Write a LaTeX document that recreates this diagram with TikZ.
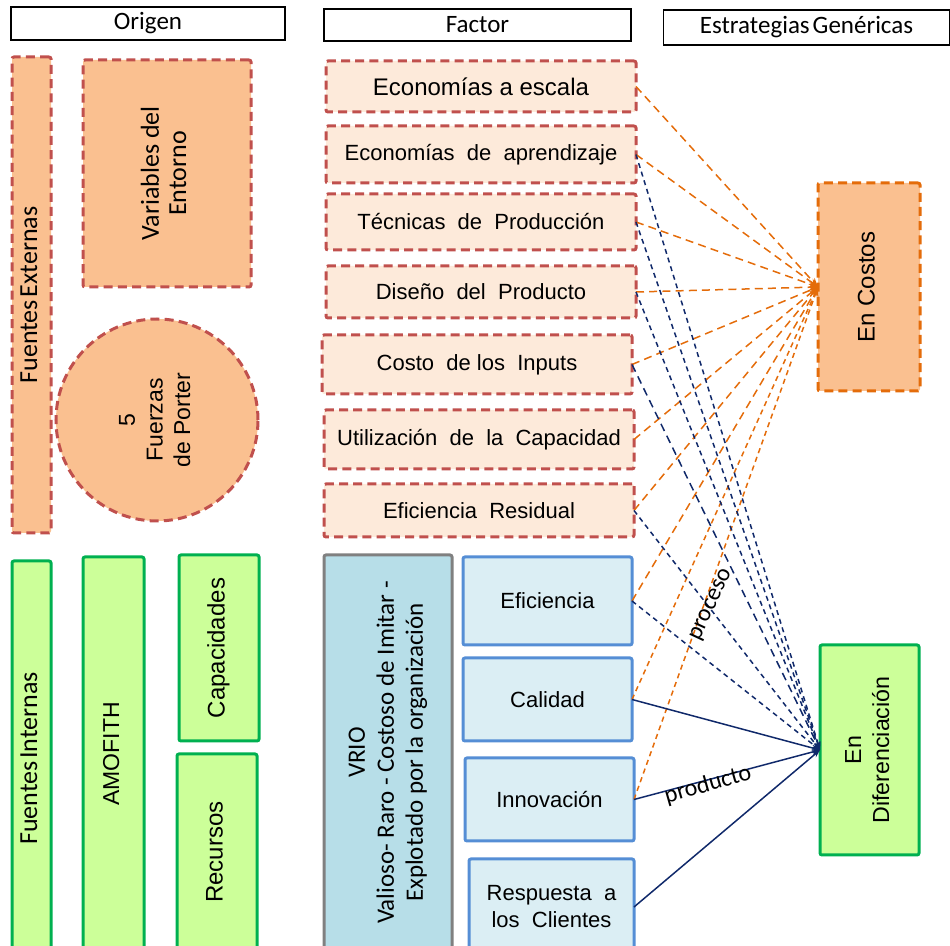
\documentclass[tikz,border=0pt]{standalone}
\usepackage{fontspec}
\setmainfont{Liberation Sans}
\newfontfamily\calibri{Carlito}
\usetikzlibrary{arrows.meta}

\definecolor{peachfill}{HTML}{FAC090}
\definecolor{lightpeach}{HTML}{FDEADA}
\definecolor{reddash}{HTML}{C0504D}
\definecolor{costorange}{HTML}{E46C0A}
\definecolor{navyline}{HTML}{10296A}
\definecolor{blueborder}{HTML}{558ED5}
\definecolor{bluefill}{HTML}{DBEEF4}
\definecolor{vriofill}{HTML}{B7DEE8}
\definecolor{vrioborder}{HTML}{808080}
\definecolor{greenfill}{HTML}{CCFF99}
\definecolor{greenborder}{HTML}{00B050}

% vertical, centred multi-line text: #1 font, #2 lines
\newcommand{\vtext}[2]{\rotatebox{90}{#1\begin{tabular}{@{}c@{}}#2\end{tabular}}}

\begin{document}
\begin{tikzpicture}[x=0.5pt,y=-0.5pt,
  every node/.style={inner sep=0pt, outer sep=0pt, align=center, text=black},
  header/.style={draw=black, line width=0.7pt, font=\calibri\fontsize{12.5}{15}\selectfont},
  extbox/.style={fill=peachfill, draw=reddash, line width=1.5pt, dash pattern=on 4.5pt off 2.6pt, rounded corners=1pt},
  factorbox/.style={fill=lightpeach, draw=reddash, line width=1.5pt, dash pattern=on 4.5pt off 2.6pt, rounded corners=1pt,
    minimum width=155pt, font=\fontsize{11}{13.5}\selectfont},
  bluebox/.style={fill=bluefill, draw=blueborder, line width=1.5pt, rounded corners=1pt,
    font=\fontsize{11}{13.5}\selectfont},
  greenbox/.style={fill=greenfill, draw=greenborder, line width=1.5pt, rounded corners=1pt},
  tocost/.style={draw=costorange, line width=0.75pt, dash pattern=on 4pt off 2.6pt,
    -{Stealth[length=4.5pt,width=3.5pt]}},
  tocostshort/.style={tocost, dash pattern=on 2.6pt off 2pt},
  todiff/.style={draw=navyline, line width=0.75pt, dash pattern=on 2.5pt off 2pt,
    -{Stealth[length=4pt,width=3pt]}},
  todifflong/.style={todiff, dash pattern=on 4pt off 2.6pt},
  todiffsolid/.style={draw=navyline, line width=0.75pt, -{Stealth[length=4pt,width=3pt]}},
  linelabel/.style={font=\calibri\fontsize{12}{14}\selectfont}
]
\useasboundingbox (0,0) rectangle (950,946);
\clip (0,0) rectangle (950,946);

% column headers
\node[header, minimum width=137pt, minimum height=16.5pt] (hOrigen) at (148,23.5) {Origen};
\node[header, minimum width=153.5pt, minimum height=16pt] (hFactor) at (477.5,25) {Factor};
\node[header, minimum width=143pt, minimum height=17.5pt] (hEstr) at (806.5,27.5) {Estrategias\hspace{0.12em}Genéricas};

% external sources
\node[extbox, minimum width=19.5pt, minimum height=238pt] (fext) at (31.5,295)
  {\vtext{\calibri\fontsize{13}{14}\selectfont}{Fuentes\hspace{0.1em}Externas}};
\node[extbox, minimum width=84pt, minimum height=113.5pt] (entorno) at (167,173.5)
  {\vtext{\calibri\fontsize{13}{13.6}\selectfont}{Variables del\\ Entorno}};
\node[extbox, circle, minimum size=101pt] (porter) at (157,420)
  {\vtext{\fontsize{11.5}{13.8}\selectfont}{5\\ Fuerzas\\ de Porter}};

% internal sources
\node[greenbox, minimum width=19.5pt, minimum height=197.5pt] (fint) at (31.5,758.5)
  {\vtext{\calibri\fontsize{13}{14}\selectfont}{Fuentes\hspace{0.1em}Internas}};
\node[greenbox, minimum width=30.5pt, minimum height=197pt] (amofith) at (113.5,754)
  {\vtext{\fontsize{11.5}{13.8}\selectfont}{AMOFITH}};
\node[greenbox, minimum width=40pt, minimum height=93pt] (capac) at (219,648)
  {\vtext{\fontsize{12}{14}\selectfont}{Capacidades}};
\node[greenbox, minimum width=40pt, minimum height=98pt] (recursos) at (217,852)
  {\vtext{\fontsize{12}{14}\selectfont}{Recursos}};

% cost factors
\node[factorbox, minimum height=25.5pt, font=\fontsize{12}{14}\selectfont] (escala) at (481,86.5) {Economías a escala};
\node[factorbox, minimum height=28.5pt] (aprend) at (481,154.5) {Economías\ \ de\ \ aprendizaje};
\node[factorbox, minimum height=28pt] (tecnicas) at (481,222) {Técnicas\ \ de\ \ Producción};
\node[factorbox, minimum height=26pt] (diseno) at (481,292) {Diseño\ \ del\ \ Producto};
\node[factorbox, minimum height=29.5pt] (inputs) at (477,364.5) {Costo\ \ de\ los\ \ Inputs};
\node[factorbox, minimum height=29.5pt] (utiliz) at (479,439.5) {Utilización\ \ de\ \ la\ \ Capacidad};
\node[factorbox, minimum height=26.5pt] (residual) at (479,510.5) {Eficiencia\ \ Residual};

% VRIO and differentiation factors
\node[fill=vriofill, draw=vrioborder, line width=1.5pt, rounded corners=1pt,
  minimum width=64pt, minimum height=197.5pt] (vrio) at (388,752.5)
  {\vtext{\calibri\fontsize{12.5}{14.5}\selectfont}{VRIO\\ Valioso- Raro - Costoso de Imitar -\\ Explotado por la organización}};
\node[bluebox, minimum width=84.5pt, minimum height=44pt] (eficiencia) at (547.5,601) {Eficiencia};
\node[bluebox, minimum width=84.5pt, minimum height=41.5pt] (calidad) at (547.5,699.5) {Calidad};
\node[bluebox, minimum width=84.5pt, minimum height=41.5pt] (innov) at (549.5,799.5) {Innovación};
\node[bluebox, minimum width=82.5pt, minimum height=48pt] (respuesta) at (551.5,907) {Respuesta\ \ a\\ los\ \ Clientes};

% generic strategies
\node[fill=peachfill, draw=costorange, line width=1.5pt, dash pattern=on 4.5pt off 2.6pt, rounded corners=1pt,
  minimum width=51pt, minimum height=104pt] (costos) at (869,287)
  {\vtext{\fontsize{12}{14}\selectfont}{En Costos}};
\node[greenbox, minimum width=49.5pt, minimum height=105pt] (difer) at (869.5,750)
  {\vtext{\fontsize{11.6}{14}\selectfont}{En\\ Diferenciación}};

% links to the cost strategy
\foreach \src in {escala,aprend,tecnicas,diseno,inputs,utiliz,residual,eficiencia}
  \draw[tocost] (\src.east) -- (costos.west);
\draw[tocostshort] (calidad.east) -- (costos.west);
\draw[tocostshort] (innov.east) -- (costos.west);

% links to the differentiation strategy
\foreach \src in {aprend,tecnicas,diseno,residual,eficiencia}
  \draw[todiff] (\src.east) -- (difer.west);
\draw[todifflong] (inputs.east) -- (difer.west);
\draw[todiffsolid] (calidad.east) -- (difer.west);
\draw[todiffsolid] (innov.east) -- (difer.west);
\draw[todiffsolid] (respuesta.east) -- (difer.west);

% line labels
\node[linelabel, rotate=65] (lproceso) at (712,605) {proceso};
\node[linelabel, rotate=16] (lproducto) at (708,785) {producto};
\end{tikzpicture}
\end{document}
